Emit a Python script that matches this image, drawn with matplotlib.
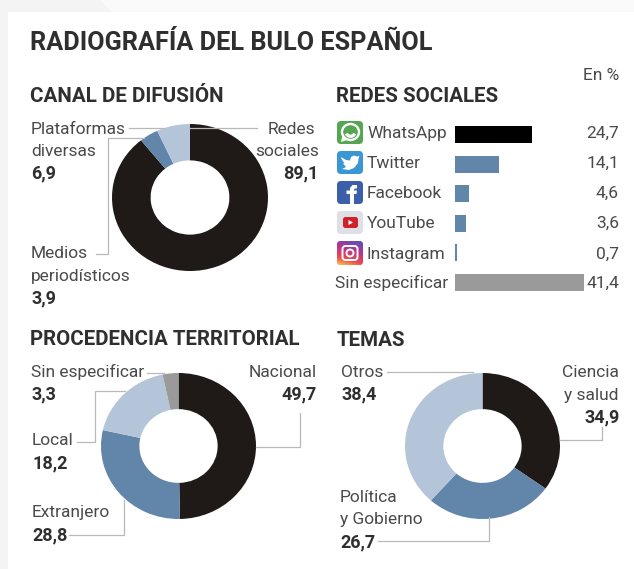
import numpy as np
import matplotlib
matplotlib.use("Agg")
import matplotlib.pyplot as plt
from matplotlib.patches import FancyBboxPatch, Polygon, Rectangle, Ellipse, Arc

plt.rcParams['font.family'] = ['Roboto', 'DejaVu Sans']

W, H = 634, 569
INK = '#4a4a4a'
BOLD = '#2f2f2f'
BLACK = '#1f1a17'
BLUE = '#6285aa'
LIGHT = '#b5c5d9'
GRAY = '#9a9a9a'
LINE = '#b8b8b8'

canal_values = [89.1, 3.9, 6.9]
canal_colors = [BLACK, BLUE, LIGHT]
territorio_values = [49.7, 28.8, 18.2, 3.3]
territorio_colors = [BLACK, BLUE, LIGHT, GRAY]
temas_values = [34.9, 26.7, 38.4]
temas_colors = [BLACK, BLUE, LIGHT]
redes_names = ['WhatsApp', 'Twitter', 'Facebook', 'YouTube', 'Instagram', 'Sin especificar']
redes_values = [24.7, 14.1, 4.6, 3.6, 0.7, 41.4]
redes_labels = ['24,7', '14,1', '4,6', '3,6', '0,7', '41,4']
redes_colors = ['#000000', BLUE, BLUE, BLUE, BLUE, GRAY]

fig = plt.figure(figsize=(W / 100, H / 100), dpi=100, facecolor='#f4f4f4')

def axes_px(x0, y0, x1, y1, **kw):
    return fig.add_axes([x0 / W, 1 - y1 / H, (x1 - x0) / W, (y1 - y0) / H], **kw)

bg = axes_px(0, 0, W, H)
bg.set_xlim(0, W); bg.set_ylim(H, 0); bg.axis('off')
bg.add_patch(Polygon([(100, 0), (W, 0), (W, 12), (112, 12)], fc='#fafafa', ec='none'))
bg.add_patch(Rectangle((8, 12), W - 8, H - 12, fc='white', ec='none'))

def donut(box, values, colors):
    ax = axes_px(*box)
    ax.pie(values, colors=colors, startangle=90, counterclock=False, radius=1,
           wedgeprops=dict(width=0.495, linewidth=0))
    ax.set_aspect('auto')
    ax.set_xlim(-1, 1); ax.set_ylim(-1, 1)
    ax.patch.set_alpha(0)

donut((112, 124, 268, 271), canal_values, canal_colors)
donut((101, 373, 256, 519), territorio_values, territorio_colors)
donut((405, 373, 560, 519), temas_values, temas_colors)

bar = axes_px(455, 119.7, 640, 297.3)
bar.barh(range(len(redes_values)), redes_values, height=0.574, color=redes_colors)
bar.set_xlim(0, 185 / 3.116)
bar.set_ylim(5.5, -0.5)
bar.axis('off')

ov = axes_px(0, 0, W, H)
ov.set_xlim(0, W); ov.set_ylim(H, 0); ov.axis('off'); ov.patch.set_alpha(0)

def txt(x, y, s, size=12.5, weight='normal', ha='left', color=None):
    if color is None:
        color = BOLD if weight == 'bold' else INK
    if weight == 'bold' and size == 12.5:
        size = 13
    ov.text(x, y, s, fontsize=size, fontweight=weight, ha=ha, va='baseline', color=color)

def leader(*pts):
    xs, ys = zip(*pts)
    ov.plot(xs, ys, color=LINE, lw=0.9, solid_joinstyle='miter')

txt(30, 50, 'RADIOGRAFÍA DEL BULO ESPAÑOL', 18.2, 'bold')
txt(30, 102, 'CANAL DE DIFUSIÓN', 14.9, 'bold')
txt(336, 102, 'REDES SOCIALES', 14.8, 'bold')
txt(30, 345, 'PROCEDENCIA TERRITORIAL', 14.8, 'bold')
txt(337, 346, 'TEMAS', 14.8, 'bold')
txt(619, 80, 'En %', ha='right')

# Canal
txt(31, 134, 'Plataformas'); txt(31, 156, 'diversas'); txt(31, 178, '6,9', weight='bold')
txt(315, 134, 'Redes', ha='right'); txt(319, 156, 'sociales', ha='right'); txt(318, 178, '89,1', weight='bold', ha='right')
txt(31, 258, 'Medios'); txt(31, 281, 'periodísticos'); txt(31, 303, '3,9', weight='bold')
leader((129, 128), (165, 128))
leader((190, 128), (257, 128))
leader((96, 254), (108, 254), (108, 138), (144, 138))

# Redes
ybase = [138, 168, 198, 228, 259, 288]
xname = [367, 367, 367, 367, 367, 335]
for name, val, y, x in zip(redes_names, redes_labels, ybase, xname):
    txt(x, y, name)
    txt(619, y, val, ha='right', size=12.5, color=INK)

def rbox(x, y, w, h, color, r=4, z=3):
    p = FancyBboxPatch((x + r, y + r), w - 2 * r, h - 2 * r, boxstyle=f'round,pad={r}',
                       fc=color, ec='none', zorder=z)
    ov.add_patch(p)
    return p

# WhatsApp
rbox(337, 121, 26, 23, '#55a650')
ov.add_patch(Ellipse((350.5, 132), 17, 16, fc='none', ec='white', lw=1.7, zorder=4))
ov.add_patch(Polygon([(341, 142), (342.5, 135), (347, 140)], fc='white', zorder=4))
ov.add_patch(Arc((350.5, 132), 9, 8.5, theta1=20, theta2=160, ec='white', lw=2.4, zorder=4))
# Twitter
rbox(337, 151, 26, 23, '#3b97d3')
ov.add_patch(Polygon([(341, 157), (346, 160), (350, 160.5), (351, 157), (354, 155.5), (357, 156.5),
                      (359.5, 156), (358.5, 158.5), (358, 163), (354, 168), (349, 170),
                      (342, 169), (346, 167), (343, 163.5), (344.5, 163), (342, 160)],
                     fc='white', ec='none', zorder=4))
# Facebook
rbox(337, 181, 26, 23, '#3b5fa8')
ov.add_patch(Polygon([(350, 204), (350, 194), (346.5, 194), (346.5, 190.5), (350, 190.5), (350, 188),
                      (352.5, 185), (357, 185), (357, 188.5), (354.5, 188.5), (354, 190.5), (357, 190.5),
                      (356.5, 194), (354, 194), (354, 204)], fc='white', ec='none', zorder=4))
# YouTube
rbox(337, 211, 26, 23, '#dfe0e6')
rbox(343, 217, 15, 11, '#d0202a', r=2.5, z=4)
ov.add_patch(Polygon([(348.5, 220), (348.5, 225), (353, 222.5)], fc='white', zorder=5))
# Instagram
base = rbox(337, 241, 26, 24, '#c13584')
grad_x, grad_y = np.meshgrid(np.linspace(0, 1, 40), np.linspace(0, 1, 40))
t = np.clip((grad_y + (1 - grad_x) * 0.3) / 1.3, 0, 1)
stops = np.array([[0.33, 0.32, 0.75], [0.72, 0.21, 0.55], [0.93, 0.30, 0.30], [0.99, 0.80, 0.30]])
img = np.stack([np.interp(t, [0, .4, .75, 1], stops[:, i]) for i in range(3)], axis=-1)
im = ov.imshow(img, extent=(337, 363, 265, 241), aspect='auto', zorder=4)
im.set_clip_path(base)
ov.set_xlim(0, W); ov.set_ylim(H, 0)
rbox(342.5, 246, 15, 14, 'none', r=3, z=5).set(ec='white', lw=1.4)
ov.add_patch(Ellipse((350, 253), 7, 7, fc='none', ec='white', lw=1.4, zorder=5))

# Procedencia
txt(31, 377, 'Sin especificar'); txt(31, 399, '3,3', weight='bold')
txt(32, 445, 'Local'); txt(32, 468, '18,2', weight='bold')
txt(32, 517, 'Extranjero'); txt(32, 540, '28,8', weight='bold')
txt(317, 377, 'Nacional', ha='right'); txt(317, 399, '49,7', weight='bold', ha='right')
leader((147, 373), (164, 373))
leader((77, 442), (95, 442), (95, 391), (125, 391))
leader((69, 535), (124, 535), (124, 500))
leader((256, 447), (300, 447), (300, 413))

# Temas
txt(341, 377, 'Otros'); txt(341, 399, '38,4', weight='bold')
txt(619, 377, 'Ciencia', ha='right'); txt(619, 400, 'y salud', ha='right'); txt(620, 422, '34,9', weight='bold', ha='right')
txt(340, 502, 'Política'); txt(340, 524, 'y Gobierno'); txt(340, 547, '26,7', weight='bold')
leader((387, 372), (473, 372))
leader((560, 440), (602, 440), (602, 427))
leader((378, 541), (489, 541), (489, 517))

fig.savefig('out.png', dpi=100, facecolor=fig.get_facecolor())
